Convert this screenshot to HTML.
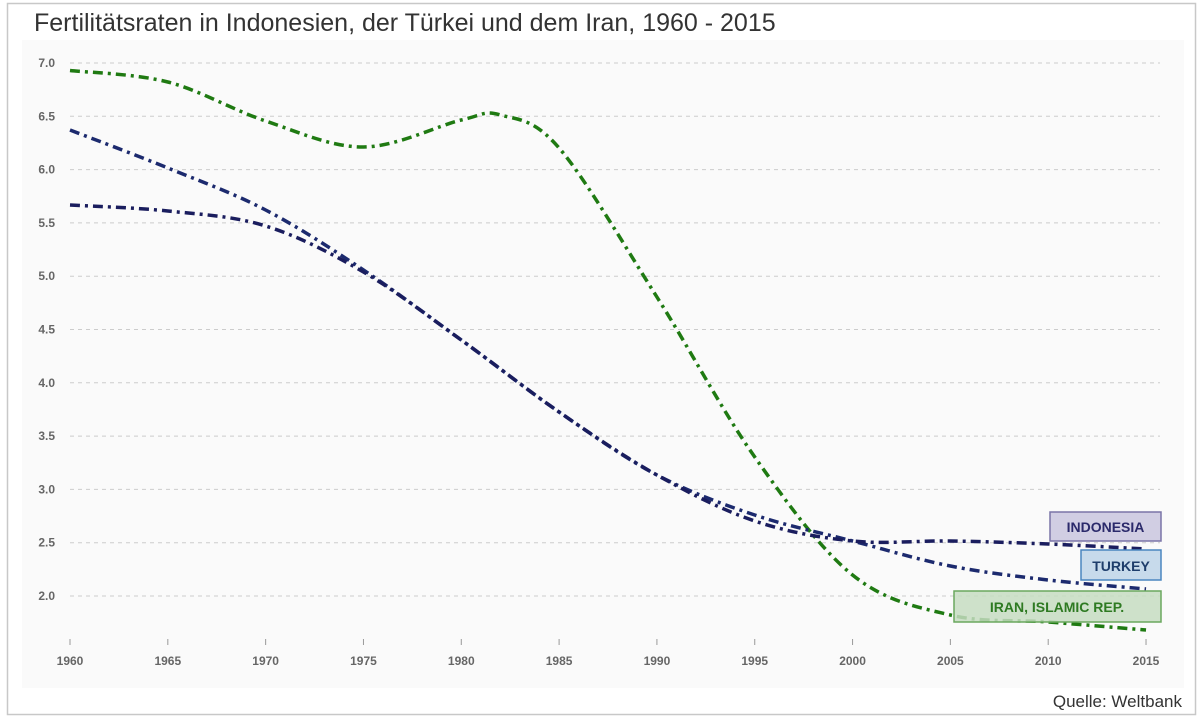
<!DOCTYPE html>
<html><head><meta charset="utf-8"><style>
body{margin:0;width:1200px;height:717px;background:#fff;overflow:hidden;font-family:"Liberation Sans",sans-serif;}
</style></head><body>
<svg width="1200" height="717" xmlns="http://www.w3.org/2000/svg" font-family="Liberation Sans, sans-serif">
<rect x="7.5" y="3.5" width="1188" height="711" fill="#fff" stroke="#c8c8c8" stroke-width="1.5"/>
<text x="34" y="31" font-size="25" fill="#333">Fertilitätsraten in Indonesien, der Türkei und dem Iran, 1960 - 2015</text>
<rect x="22" y="40" width="1162" height="648" fill="#fafafa"/>
<g id="grid" stroke="#ccc" stroke-dasharray="4 4" stroke-width="1"></g>
<g id="ylab" font-size="12" fill="#666" font-weight="bold" text-anchor="end"></g>
<g id="xlab" font-size="12" fill="#666" font-weight="bold" text-anchor="middle"></g>
<g id="lines" fill="none" stroke-width="3.5" stroke-dasharray="10 5 3 5"></g>
<rect x="1050" y="512" width="111" height="29" fill="#c9c6de" fill-opacity="0.85" stroke="#7a74a8" stroke-width="1.5"/>
<text x="1105.5" y="532" font-size="14" font-weight="bold" fill="#2b2a6b" text-anchor="middle">INDONESIA</text>
<rect x="1081" y="550" width="80" height="30" fill="#bdd3e8" fill-opacity="0.85" stroke="#4a86c0" stroke-width="1.5"/>
<text x="1121" y="571" font-size="14" font-weight="bold" fill="#1e3d6b" text-anchor="middle">TURKEY</text>
<rect x="954" y="591" width="207" height="31" fill="#c6dcc1" fill-opacity="0.85" stroke="#6aa85e" stroke-width="1.5"/>
<text x="1057" y="612" font-size="14" font-weight="bold" fill="#2e7a22" text-anchor="middle">IRAN, ISLAMIC REP.</text>
<text x="1182" y="707" font-size="17" fill="#333" text-anchor="end">Quelle: Weltbank</text>
</svg>
<script>
var ns="http://www.w3.org/2000/svg";
function el(p,t,a,txt){var e=document.createElementNS(ns,t);for(var k in a)e.setAttribute(k,a[k]);if(txt)e.textContent=txt;document.getElementById(p).appendChild(e);}
function Y(v){return 63+(7-v)*106.6;}
function X(y){return 70+(y-1960)*19.564;}
for(var v=2;v<=7.001;v+=0.5){el("grid","line",{x1:70,x2:1160,y1:Y(v),y2:Y(v)});el("ylab","text",{x:55,y:Y(v)+4},v.toFixed(1));}
for(var yr=1960;yr<=2015;yr+=5){el("xlab","text",{x:X(yr),y:665},""+yr);el("grid","line",{x1:X(yr),x2:X(yr),y1:639,y2:645,"stroke-dasharray":"none",stroke:"#999"});}
function path(pts){var d="M"+pts[0][0]+","+pts[0][1];for(var i=0;i<pts.length-1;i++){var p0=pts[i-1]||pts[i],p1=pts[i],p2=pts[i+1],p3=pts[i+2]||p2;
d+=" C"+(p1[0]+(p2[0]-p0[0])/6)+","+(p1[1]+(p2[1]-p0[1])/6)+" "+(p2[0]-(p3[0]-p1[0])/6)+","+(p2[1]-(p3[1]-p1[1])/6)+" "+p2[0]+","+p2[1];}return d;}
function mk(a){return a.map(function(q){return [X(q[0]),q[1]];});}
var iran=mk([[1960,70.5],[1965,82],[1970,121],[1975,147],[1980,120],[1982,115],[1985,148],[1990,297],[1995,457],[2000,575],[2005,615],[2010,622],[2015,630]]);
var tur=mk([[1960,130],[1965,168],[1970,210],[1975,270],[1980,340],[1985,412],[1990,475],[1995,515],[2000,541],[2005,566],[2010,580],[2015,589]]);
var ind=mk([[1960,205],[1965,211],[1970,226],[1975,272],[1980,340],[1985,412],[1990,475],[1995,521],[2000,541],[2005,541],[2010,544],[2015,549]]);
el("lines","path",{d:path(iran),stroke:"#1f7a12"});
el("lines","path",{d:path(tur),stroke:"#1c2a6e"});
el("lines","path",{d:path(ind),stroke:"#1a1d5e"});
</script>
</body></html>
